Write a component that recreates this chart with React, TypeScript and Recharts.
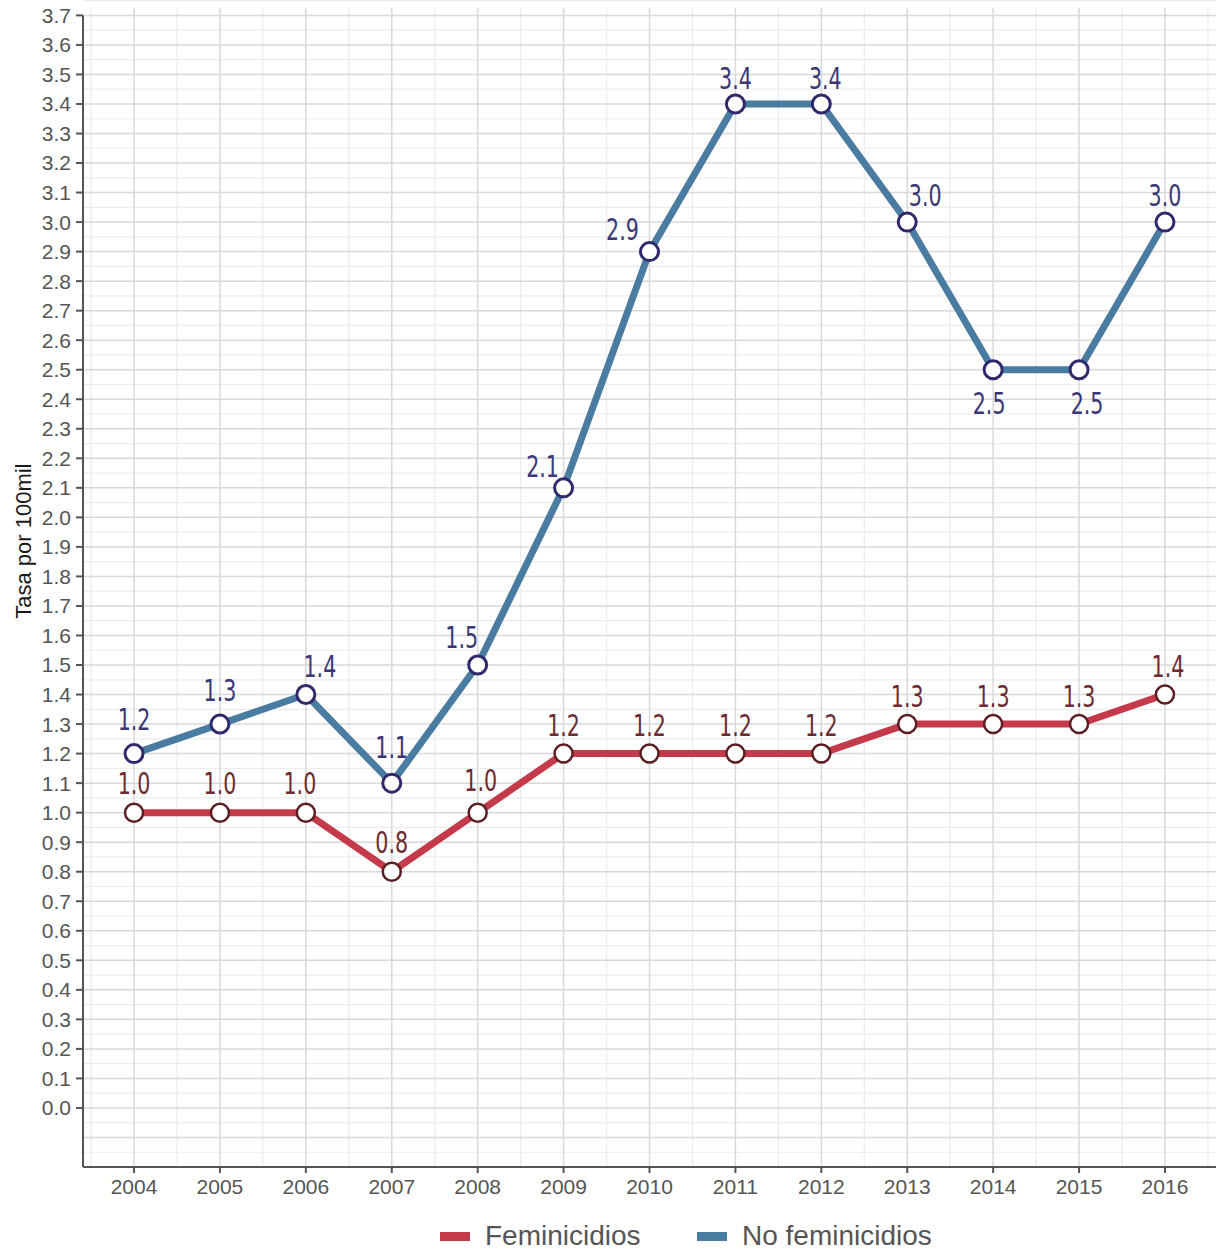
import { CartesianGrid, Legend, Line, LineChart, ReferenceLine, XAxis, YAxis } from "recharts";

const YEARS = [2004, 2005, 2006, 2007, 2008, 2009, 2010, 2011, 2012, 2013, 2014, 2015, 2016];
const FEMINICIDIOS = [1.0, 1.0, 1.0, 0.8, 1.0, 1.2, 1.2, 1.2, 1.2, 1.3, 1.3, 1.3, 1.4];
const NO_FEMINICIDIOS = [1.2, 1.3, 1.4, 1.1, 1.5, 2.1, 2.9, 3.4, 3.4, 3.0, 2.5, 2.5, 3.0];
const Y_TICKS = [
  0.0, 0.1, 0.2, 0.3, 0.4, 0.5, 0.6, 0.7, 0.8, 0.9, 1.0, 1.1, 1.2, 1.3, 1.4, 1.5, 1.6, 1.7, 1.8,
  1.9, 2.0, 2.1, 2.2, 2.3, 2.4, 2.5, 2.6, 2.7, 2.8, 2.9, 3.0, 3.1, 3.2, 3.3, 3.4, 3.5, 3.6, 3.7,
];

const X_DOMAIN: [number, number] = [2003.406, 2016.594];
const Y_DOMAIN: [number, number] = [-0.2, 3.725];

const RED = "#c43a4b";
const BLUE = "#4a7ba1";
const RED_TEXT = "#6b2b30";
const BLUE_TEXT = "#3b3775";

// label centre offsets (dx, dy) from each point, hand placed like the original
const BLUE_LABEL_POS: Array<[number, number]> = [
  [0, -34], [0, -34], [14, -28], [0, -36], [-16, -28], [-21, -22], [-27, -22],
  [0, -26], [4, -26], [18, -27], [-4, 33], [8, 33], [0, -27],
];
const RED_LABEL_POS: Array<[number, number]> = [
  [0, -29], [0, -29], [-6, -29], [0, -30], [3, -32], [0, -28], [0, -28],
  [0, -28], [0, -28], [0, -28], [0, -28], [0, -28], [3, -28],
];

const data = YEARS.map((year, i) => ({
  year,
  fem: FEMINICIDIOS[i],
  noFem: NO_FEMINICIDIOS[i],
}));

const majorY = [-0.2, -0.1, ...Y_TICKS];
const minorY = majorY.map((v) => Number((v + 0.05).toFixed(2)));
const minorX = [YEARS[0] - 0.5, ...YEARS.map((y) => y + 0.5)];

function makeLabel(pos: Array<[number, number]>, color: string) {
  return (props: any) => {
    const { x, y, value, index } = props;
    const [dx, dy] = pos[index] ?? [0, -28];
    return (
      <text
        key={`lbl-${color}-${index}`}
        transform={`translate(${x + dx}, ${y + dy}) scale(0.74, 1)`}
        textAnchor="middle"
        dominantBaseline="central"
        fill={color}
        fontSize={31}
        fontFamily="'DejaVu Sans Condensed', 'Liberation Sans Narrow', sans-serif"
      >
        {Number(value).toFixed(1)}
      </text>
    );
  };
}

function YLabel(props: any) {
  const { viewBox } = props;
  const cx = 24;
  const cy = viewBox.y + viewBox.height * 0.46;
  return (
    <text
      x={cx}
      y={cy}
      transform={`rotate(-90, ${cx}, ${cy})`}
      textAnchor="middle"
      dominantBaseline="central"
      fill="#1a1a1a"
      fontSize={22}
      fontFamily="'Liberation Sans', Arial, sans-serif"
    >
      Tasa por 100mil
    </text>
  );
}

function LegendBox() {
  const items = [
    { name: "Feminicidios", color: RED, width: 257 },
    { name: "No feminicidios", color: BLUE, width: 260 },
  ];
  return (
    <div style={{ display: "flex", height: 40, paddingTop: 18, paddingLeft: 440, boxSizing: "border-box" }}>
      {items.map((item) => (
        <div key={item.name} style={{ display: "flex", alignItems: "center", width: item.width, height: 22 }}>
          <span style={{ display: "inline-block", width: 30, height: 9, background: item.color, marginRight: 15 }} />
          <span
            style={{
              fontSize: 28,
              color: "#555555",
              fontFamily: "'Liberation Sans', Arial, sans-serif",
              lineHeight: "22px",
            }}
          >
            {item.name}
          </span>
        </div>
      ))}
    </div>
  );
}

export default function App() {
  return (
    <div style={{ position: "absolute", left: 0, top: 0, background: "#ffffff" }}>
      <LineChart
        width={1226}
        height={1249}
        data={data}
        margin={{ top: 8, right: 10, bottom: 2, left: 0 }}
      >
        <CartesianGrid
          stroke="#ececec"
          strokeWidth={1.2}
          horizontalValues={minorY}
          verticalValues={minorX}
        />
        <CartesianGrid
          stroke="#d9d9d9"
          strokeWidth={1.5}
          horizontalValues={majorY}
          verticalValues={YEARS}
        />
        <XAxis
          dataKey="year"
          type="number"
          domain={X_DOMAIN}
          ticks={YEARS}
          interval={0}
          allowDataOverflow
          height={40}
          tickSize={6}
          tickMargin={6}
          stroke="#555555"
          strokeWidth={2}
          tick={{ fill: "#555555", fontSize: 21, fontFamily: "'Liberation Sans', Arial, sans-serif" }}
        />
        <YAxis
          type="number"
          domain={Y_DOMAIN}
          ticks={Y_TICKS}
          interval={0}
          allowDataOverflow
          width={83}
          axisLine={false}
          tickSize={7}
          tickMargin={5}
          tickLine={{ stroke: "#555555", strokeWidth: 2 }}
          tick={{ fill: "#555555", fontSize: 21, fontFamily: "'Liberation Sans', Arial, sans-serif" }}
          tickFormatter={(v) => Number(v).toFixed(1)}
          label={<YLabel />}
        />
        <ReferenceLine
          segment={[
            { x: X_DOMAIN[0], y: -0.2 },
            { x: X_DOMAIN[0], y: 3.7 },
          ]}
          stroke="#555555"
          strokeWidth={2}
        />
        <Legend verticalAlign="bottom" wrapperStyle={{ height: 40, left: 0, width: 1226 }} content={() => <LegendBox />} />
        <Line
          dataKey="fem"
          name="Feminicidios"
          stroke={RED}
          strokeWidth={7}
          dot={{ r: 9, fill: "#ffffff", stroke: "#5a1f22", strokeWidth: 2.5 }}
          activeDot={false}
          isAnimationActive={false}
          label={makeLabel(RED_LABEL_POS, RED_TEXT)}
        />
        <Line
          dataKey="noFem"
          name="No feminicidios"
          stroke={BLUE}
          strokeWidth={7}
          dot={{ r: 9, fill: "#ffffff", stroke: "#2e2a6c", strokeWidth: 3 }}
          activeDot={false}
          isAnimationActive={false}
          label={makeLabel(BLUE_LABEL_POS, BLUE_TEXT)}
        />
      </LineChart>
    </div>
  );
}
